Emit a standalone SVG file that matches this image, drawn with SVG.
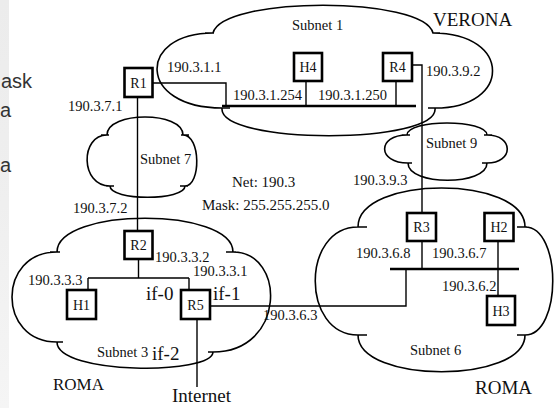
<svg xmlns="http://www.w3.org/2000/svg" width="555" height="408" viewBox="0 0 555 408">
<defs>
<linearGradient id="strip" x1="0" y1="0" x2="0" y2="1">
<stop offset="0" stop-color="#ececec"/>
<stop offset="0.5" stop-color="#efefef"/>
<stop offset="1" stop-color="#f5f5f5"/>
</linearGradient>
<style>
.cloud{fill:none;stroke:#000;stroke-width:1.6}
.box{fill:#fff;stroke:#000;stroke-width:2.6}
.ln{fill:none;stroke:#000;stroke-width:1.4}
.bus{fill:none;stroke:#000;stroke-width:2.6}
.t{font-family:"Liberation Serif","Times New Roman",serif;font-size:14.5px;fill:#111}
.lbl{font-family:"Liberation Serif","Times New Roman",serif;font-size:14px;fill:#111;text-anchor:middle}
.big{font-family:"Liberation Serif","Times New Roman",serif;font-size:19px;fill:#111}
.side{font-family:"Liberation Sans",Arial,sans-serif;font-size:20px;fill:#333;text-anchor:end}
</style>
</defs>
<rect x="0" y="0" width="555" height="408" fill="#fff"/>
<rect x="0" y="0" width="9" height="408" fill="url(#strip)"/>
<g id="side-text">
<text class="side" x="32" y="88">ask</text>
<text class="side" x="11" y="117">a</text>
<text class="side" x="11" y="172">a</text>
</g>

<g id="subnet1">
<path class="cloud" d="M213,33 C222,-4 424,-4 433,33 C512,33 512,108 435,108 C440,145 218,145 222,108 C137,108 137,33 213,33 M205,33 H214 M433,33 H440 M428,108 H437 M222,108 H230"/>
<text class="t" x="292" y="30">Subnet 1</text>
</g>
<g id="subnet7">
<path class="cloud" d="M107,135 C107,111 183,111 183,135 C201,135 201,186 185,186 C185,201 110,201 110,186 C80,186 80,135 107,135 M101,135 H109 M181,135 H189 M180,186 H188 M106,186 H114"/>
<text class="t" x="140" y="164">Subnet 7</text>
</g>
<g id="subnet9">
<path class="cloud" d="M407,135 C407,119 487,119 487,135 C514,135 514,163 487,163 C487,186 408,186 408,163 C377,163 377,135 407,135 M402,135 H410 M484,135 H492 M482,163 H490 M404,163 H412"/>
<text class="t" x="426" y="148">Subnet 9</text>
</g>
<g id="subnet3">
<path class="cloud" d="M57,252 C57,207 233,207 233,252 C286,252 286,352 213,352 C213,375 57,375 57,342 C-3,342 -3,252 57,252 M50,252 H60 M226,252 H236 M208,352 H218 M54,342 H63"/>
<text class="t" x="97" y="357">Subnet 3</text>
</g>
<g id="subnet6">
<path class="cloud" d="M358,227 C358,175 525,175 525,227 C562,227 562,335 525,335 C525,384 358,384 358,335 C301,335 301,227 358,227 M358,227 H367 M517,227 H527 M517,335 H527 M358,335 H367"/>
<text class="t" x="410" y="355">Subnet 6</text>
</g>

<g id="connectors">
<path class="ln" d="M153,83 H226 V106"/>
<path class="bus" d="M222,106 H416"/>
<path class="ln" d="M306,82 V106"/>
<path class="ln" d="M396,82 V106"/>
<path class="ln" d="M412,65 H422 V212"/>
<path class="ln" d="M137.5,98 V230"/>
<path class="ln" d="M138.5,260 V278 M88,278 H189 M88,278 V289 M189,278 V289"/>
<path class="ln" d="M211,306 H406 V269"/>
<path class="bus" d="M390,269 H519"/>
<path class="ln" d="M422,242 V269"/>
<path class="ln" d="M498,242 V295"/>
<path class="ln" d="M197,320 V387"/>
</g>

<g id="R1"><rect class="box" x="124.5" y="68" width="28" height="29"/><text class="lbl" x="138.5" y="88">R1</text></g>
<g id="H4"><rect class="box" x="294" y="53" width="28" height="28"/><text class="lbl" x="308" y="72">H4</text></g>
<g id="R4"><rect class="box" x="383" y="53" width="29" height="28"/><text class="lbl" x="397.5" y="72">R4</text></g>
<g id="R2"><rect class="box" x="124.5" y="231" width="28" height="28"/><text class="lbl" x="138.5" y="250">R2</text></g>
<g id="H1"><rect class="box" x="67" y="290" width="29" height="29"/><text class="lbl" x="81.5" y="310">H1</text></g>
<g id="R5"><rect class="box" x="181" y="290" width="29" height="29"/><text class="lbl" x="195.5" y="310">R5</text></g>
<g id="R3"><rect class="box" x="407" y="213" width="29" height="28"/><text class="lbl" x="421.5" y="232">R3</text></g>
<g id="H2"><rect class="box" x="484.5" y="213" width="29" height="28"/><text class="lbl" x="499" y="232">H2</text></g>
<g id="H3"><rect class="box" x="487" y="296" width="28" height="29"/><text class="lbl" x="501" y="316">H3</text></g>

<g id="labels">
<text class="t" x="167" y="72">190.3.1.1</text>
<text class="t" x="68" y="111">190.3.7.1</text>
<text class="t" x="233" y="100">190.3.1.254</text>
<text class="t" x="318" y="100">190.3.1.250</text>
<text class="t" x="426" y="76">190.3.9.2</text>
<text class="t" x="353" y="185">190.3.9.3</text>
<text class="t" x="232" y="187" style="font-size:15px">Net: 190.3</text>
<text class="t" x="202" y="210" style="font-size:15px">Mask: 255.255.255.0</text>
<text class="t" x="73" y="213">190.3.7.2</text>
<text class="t" x="155" y="262">190.3.3.2</text>
<text class="t" x="193" y="276">190.3.3.1</text>
<text class="t" x="28" y="285">190.3.3.3</text>
<text class="t" x="263" y="320">190.3.6.3</text>
<text class="t" x="356" y="258">190.3.6.8</text>
<text class="t" x="432" y="258">190.3.6.7</text>
<text class="t" x="442" y="291">190.3.6.2</text>
<text class="big" x="146" y="300">if-0</text>
<text class="big" x="213" y="300">if-1</text>
<text class="big" x="152" y="360">if-2</text>
<text class="big" x="172" y="402">Internet</text>
<text class="big" x="433" y="26">VERONA</text>
<text class="big" x="53" y="390" style="font-size:17px">ROMA</text>
<text class="big" x="475" y="394">ROMA</text>
</g>
</svg>
